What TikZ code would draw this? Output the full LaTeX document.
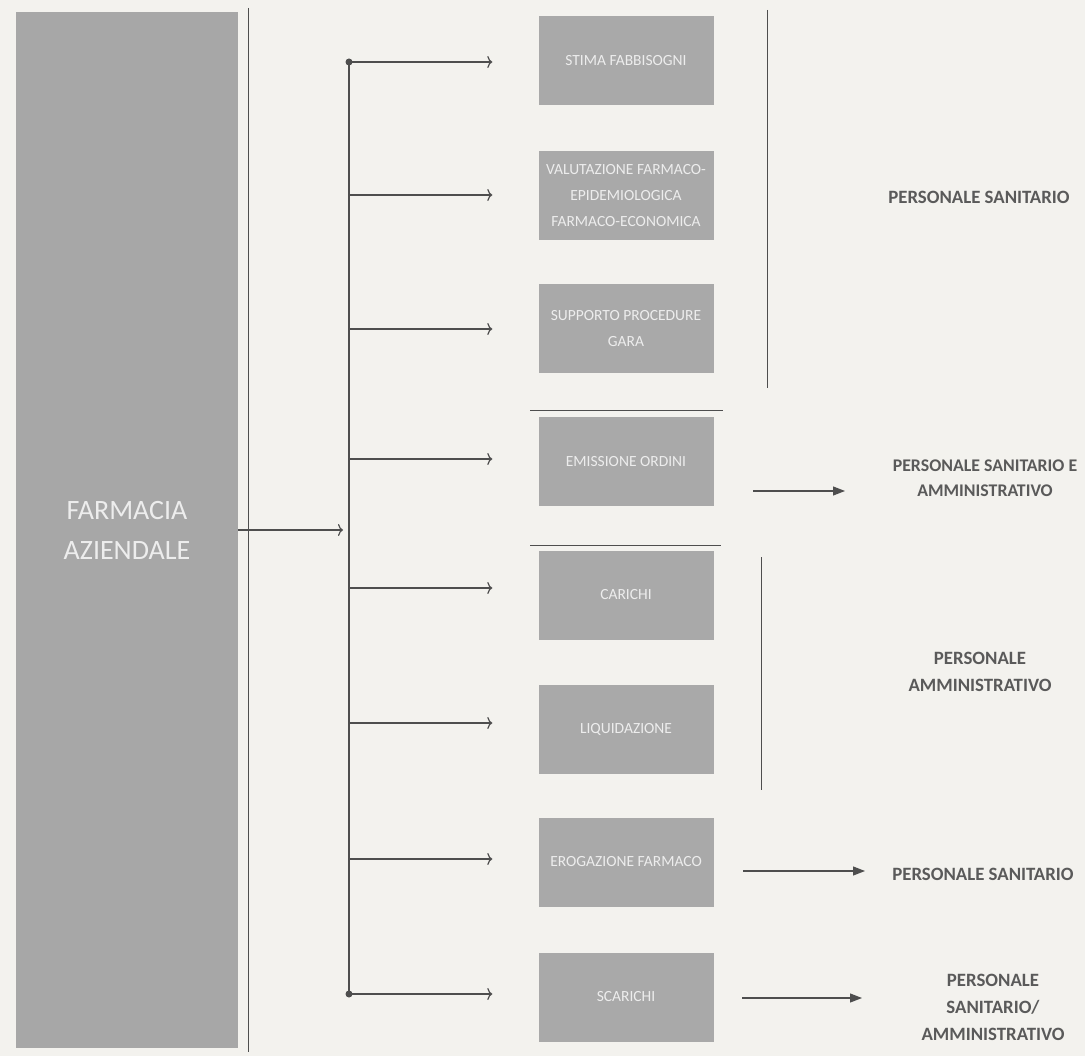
\documentclass[tikz,border=0pt]{standalone}
\usepackage{fontspec}
\setmainfont{Carlito}
\usetikzlibrary{arrows.meta}
\definecolor{paper}{HTML}{F3F2EE}
\definecolor{boxgray}{HTML}{A9A9A9}
\definecolor{biggray}{HTML}{A7A7A7}
\definecolor{boxtext}{HTML}{EDEDED}
\definecolor{ink}{HTML}{4E4E4E}
\definecolor{roletext}{HTML}{5A5A5A}
\begin{document}
\begin{tikzpicture}[x=1pt,y=-1pt,
  bigbox/.style={fill=biggray, draw=none, text=boxtext, align=center,
    minimum width=222pt, minimum height=1036pt, inner sep=0pt,
    font=\fontsize{28}{40}\selectfont},
  proc/.style={fill=boxgray, draw=none, text=boxtext, align=center,
    minimum width=175pt, minimum height=89pt, inner sep=0pt,
    font=\fontsize{15.5}{26}\selectfont},
  role/.style={text=roletext, align=center, inner sep=0pt,
    font=\bfseries\fontsize{18.8}{27}\selectfont},
  rule/.style={draw=ink, line width=1pt},
  branch/.style={draw=ink, line width=1.2pt, -{To[length=5pt,width=12pt,line width=1.2pt]}},
  outarrow/.style={draw=ink, line width=1.2pt, -{Triangle[length=12pt,width=9pt]}},
  dot/.style={circle, fill=ink, inner sep=0pt, minimum size=7pt}
]
\fill[paper] (0,0) rectangle (1085,1056);
\useasboundingbox (0,0) rectangle (1085,1056);

% left block
\node[bigbox] (fa) at (127,530) {FARMACIA\\AZIENDALE};
\coordinate (lt) at (248,8);
\coordinate (lb) at (248,1052);
\draw[rule] (lt) -- (lb);

% process boxes
\node[proc] (b1) at (626,61)  {STIMA FABBISOGNI};
\node[proc] (b2) at (626,196) {VALUTAZIONE FARMACO-\\EPIDEMIOLOGICA\\FARMACO-ECONOMICA};
\node[proc] (b3) at (626,329) {SUPPORTO PROCEDURE\\GARA};
\node[proc] (b4) at (626,462) {EMISSIONE ORDINI};
\node[proc] (b5) at (626,595) {CARICHI};
\node[proc] (b6) at (626,729) {LIQUIDAZIONE};
\node[proc] (b7) at (626,862) {EROGAZIONE FARMACO};
\node[proc] (b8) at (626,997) {SCARICHI};

% spine
\coordinate (s1) at (349,62);
\coordinate (s2) at (349,195);
\coordinate (s3) at (349,329);
\coordinate (s4) at (349,459);
\coordinate (sm) at (349,530);
\coordinate (s5) at (349,588);
\coordinate (s6) at (349,723);
\coordinate (s7) at (349,859);
\coordinate (s8) at (349,994);
\draw[rule, line width=1.2pt] (s1) -- (s8);
\node[dot] (d1) at (s1) {};
\node[dot] (d8) at (s8) {};

\draw[branch, shorten >=6pt] (fa.east) -- (sm);
\foreach \i in {1,...,8}{
  \draw[branch, shorten >=46pt] (s\i) -- (s\i -| b\i.west);
}

% separators
\coordinate (sa1) at (530,411); \coordinate (sa2) at (723,411);
\coordinate (sb1) at (530,545); \coordinate (sb2) at (721,545);
\draw[rule] (sa1) -- (sa2);
\draw[rule] (sb1) -- (sb2);

% group brackets
\coordinate (g1t) at (767,10);  \coordinate (g1b) at (767,388);
\coordinate (g2t) at (761,557); \coordinate (g2b) at (761,790);
\draw[rule] (g1t) -- (g1b);
\draw[rule] (g2t) -- (g2b);

% role labels
\node[role] (r1) at (979,197) {PERSONALE SANITARIO};
\node[role, font=\bfseries\fontsize{17.8}{25}\selectfont] (r2) at (985,478) {PERSONALE SANITARIO E\\AMMINISTRATIVO};
\node[role] (r3) at (980,672) {PERSONALE\\AMMINISTRATIVO};
\node[role] (r4) at (983,874) {PERSONALE SANITARIO};
\node[role] (r5) at (993,1007) {PERSONALE\\SANITARIO/\\AMMINISTRATIVO};

% output arrows
\coordinate (o4) at (753,491); \coordinate (e4) at (845,491);
\coordinate (o7) at (743,871); \coordinate (e7) at (865,871);
\coordinate (o8) at (742,998); \coordinate (e8) at (862,998);
\draw[outarrow] (o4) -- (e4);
\draw[outarrow] (o7) -- (e7);
\draw[outarrow] (o8) -- (e8);
\end{tikzpicture}
\end{document}
